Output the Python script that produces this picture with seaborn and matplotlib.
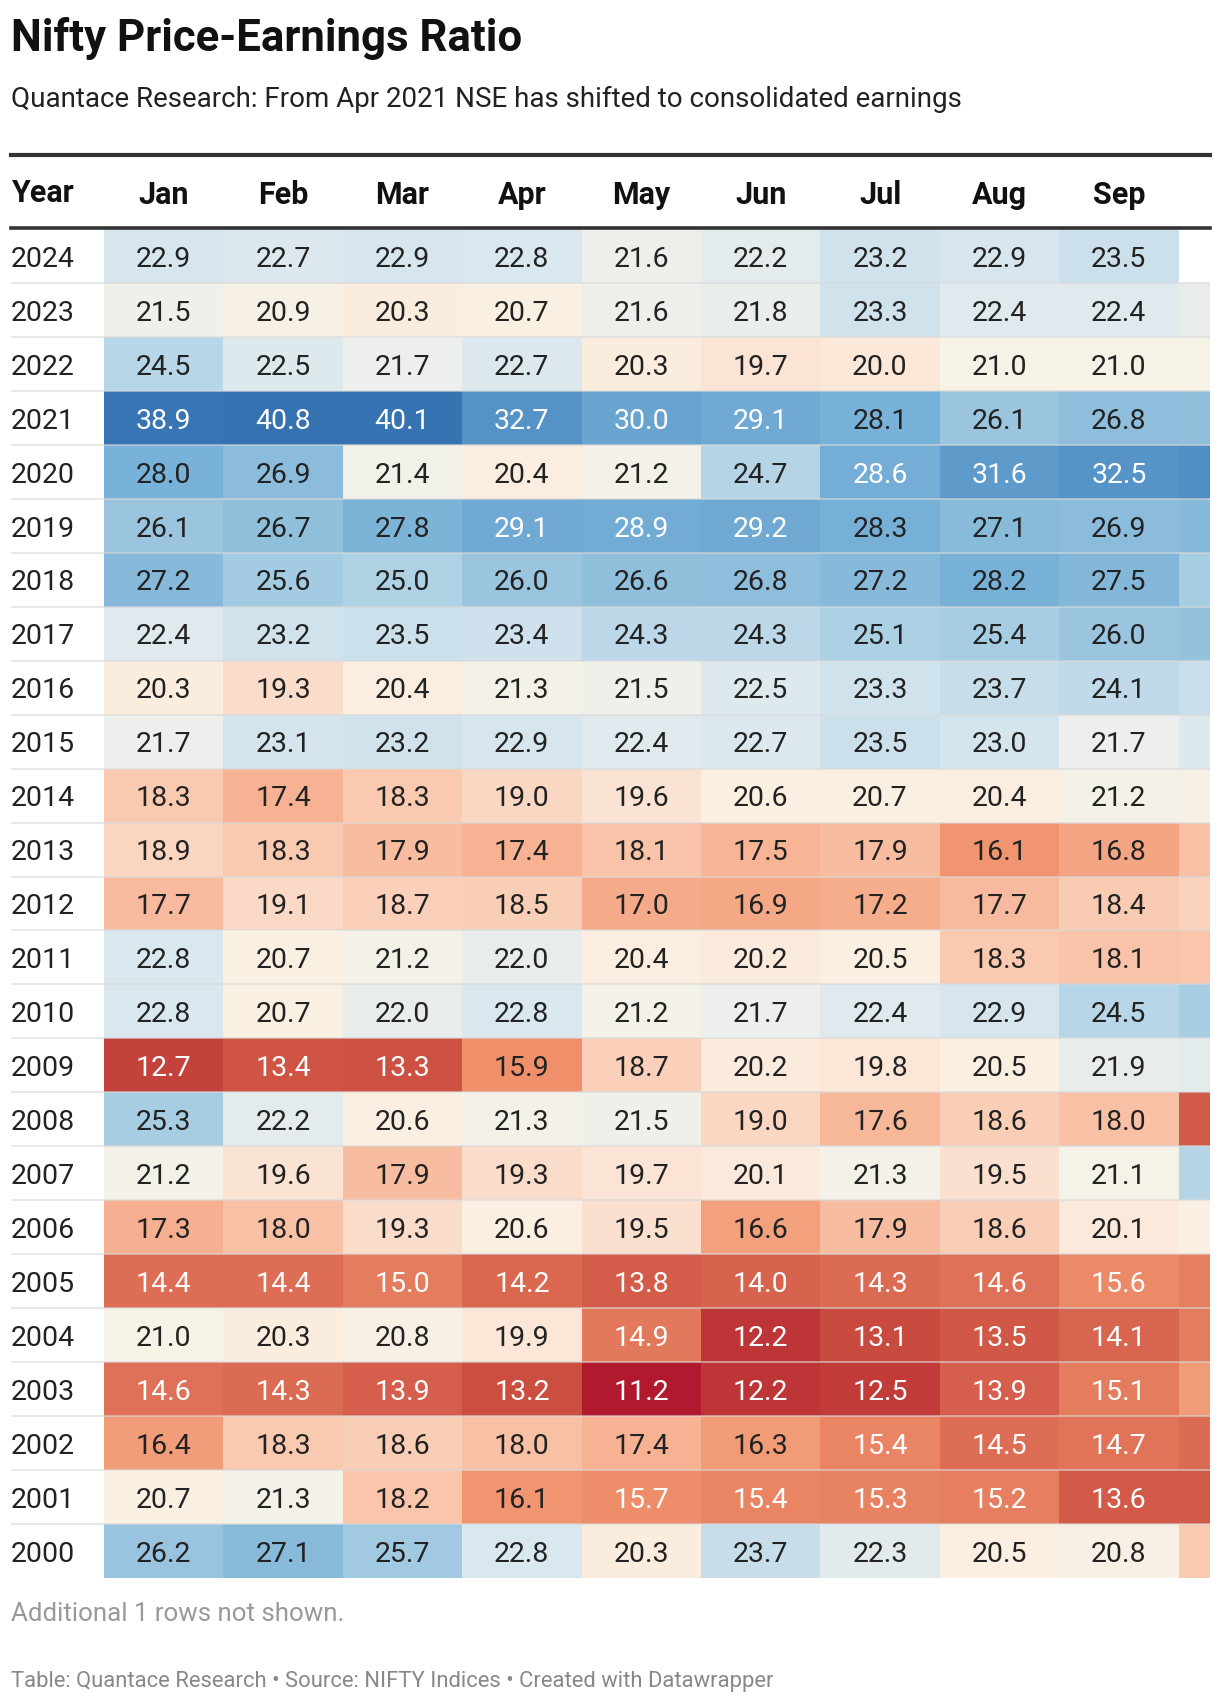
import numpy as np
import pandas as pd
import matplotlib
matplotlib.use("Agg")
import matplotlib.pyplot as plt
import seaborn as sns
from matplotlib.colors import LinearSegmentedColormap

# Data (Oct column is cut off at the right edge)
years = [str(y) for y in range(2024, 1999, -1)]
months = ["Jan", "Feb", "Mar", "Apr", "May", "Jun", "Jul", "Aug", "Sep", "Oct"]

jan = [22.9, 21.5, 24.5, 38.9, 28.0, 26.1, 27.2, 22.4, 20.3, 21.7, 18.3, 18.9, 17.7, 22.8, 22.8, 12.7, 25.3, 21.2, 17.3, 14.4, 21.0, 14.6, 16.4, 20.7, 26.2]
feb = [22.7, 20.9, 22.5, 40.8, 26.9, 26.7, 25.6, 23.2, 19.3, 23.1, 17.4, 18.3, 19.1, 20.7, 20.7, 13.4, 22.2, 19.6, 18.0, 14.4, 20.3, 14.3, 18.3, 21.3, 27.1]
mar = [22.9, 20.3, 21.7, 40.1, 21.4, 27.8, 25.0, 23.5, 20.4, 23.2, 18.3, 17.9, 18.7, 21.2, 22.0, 13.3, 20.6, 17.9, 19.3, 15.0, 20.8, 13.9, 18.6, 18.2, 25.7]
apr = [22.8, 20.7, 22.7, 32.7, 20.4, 29.1, 26.0, 23.4, 21.3, 22.9, 19.0, 17.4, 18.5, 22.0, 22.8, 15.9, 21.3, 19.3, 20.6, 14.2, 19.9, 13.2, 18.0, 16.1, 22.8]
may = [21.6, 21.6, 20.3, 30.0, 21.2, 28.9, 26.6, 24.3, 21.5, 22.4, 19.6, 18.1, 17.0, 20.4, 21.2, 18.7, 21.5, 19.7, 19.5, 13.8, 14.9, 11.2, 17.4, 15.7, 20.3]
jun = [22.2, 21.8, 19.7, 29.1, 24.7, 29.2, 26.8, 24.3, 22.5, 22.7, 20.6, 17.5, 16.9, 20.2, 21.7, 20.2, 19.0, 20.1, 16.6, 14.0, 12.2, 12.2, 16.3, 15.4, 23.7]
jul = [23.2, 23.3, 20.0, 28.1, 28.6, 28.3, 27.2, 25.1, 23.3, 23.5, 20.7, 17.9, 17.2, 20.5, 22.4, 19.8, 17.6, 21.3, 17.9, 14.3, 13.1, 12.5, 15.4, 15.3, 22.3]
aug = [22.9, 22.4, 21.0, 26.1, 31.6, 27.1, 28.2, 25.4, 23.7, 23.0, 20.4, 16.1, 17.7, 18.3, 22.9, 20.5, 18.6, 19.5, 18.6, 14.6, 13.5, 13.9, 14.5, 15.2, 20.5]
sep = [23.5, 22.4, 21.0, 26.8, 32.5, 26.9, 27.5, 26.0, 24.1, 21.7, 21.2, 16.8, 18.4, 18.1, 24.5, 21.9, 18.0, 21.1, 20.1, 15.6, 14.1, 15.1, 14.7, 13.6, 20.8]
# only a sliver of October is visible, values guessed from colour
oct_ = [np.nan, 22.0, 21.0, 26.6, 33.6, 27.2, 25.4, 26.4, 23.6, 22.6, 20.9, 18.0, 18.8, 18.2, 25.3, 22.2, 13.6, 24.7, 20.7, 15.2, 15.0, 16.5, 14.3, 13.6, 18.3]

df = pd.DataFrame({"Jan": jan, "Feb": feb, "Mar": mar, "Apr": apr, "May": may,
                   "Jun": jun, "Jul": jul, "Aug": aug, "Sep": sep, "Oct": oct_},
                  index=years)

# colour scale (red -> cream -> blue)
vmin, vmax = 11.0, 41.0
stops = [(11.0, "#b0172d"), (12.7, "#c4433c"), (13.4, "#d05545"), (15.9, "#f0926c"),
         (17.4, "#f7b394"), (18.3, "#f9c9b0"), (19.6, "#fbe3d4"), (20.4, "#fbeee0"),
         (21.0, "#f6f2e6"), (21.5, "#f0f0ea"), (22.9, "#d7e6ee"), (25.3, "#a8cee3"),
         (26.9, "#8cbcdb"), (28.0, "#79b2d8"), (32.7, "#5592c6"), (38.9, "#3775b5"),
         (41.0, "#3472b2")]
cmap = LinearSegmentedColormap.from_list(
    "dw", [((v - vmin) / (vmax - vmin), c) for v, c in stops])

plt.rcParams["font.family"] = ["Roboto", "DejaVu Sans"]

W, H = 1220, 1704
fig = plt.figure(figsize=(W / 100, H / 100), dpi=100)

left, right, top, bottom = 104, 1210, 229, 1578
ax = fig.add_axes([left / W, 1 - bottom / H, (right - left) / W, (bottom - top) / H])

sns.heatmap(df, ax=ax, cmap=cmap, vmin=vmin, vmax=vmax, cbar=False,
            annot=False, linewidths=0)

visible = 9 + 31.5 / 119.5
ax.set_xlim(0, visible)
ax.set_ylim(len(years), 0)

# cell values (skip the clipped Oct column)
for i, y in enumerate(years):
    for j, m in enumerate(months[:9]):
        v = df.loc[y, m]
        col = "white" if (v < 15.8 or v > 28.5) else "#222222"
        ax.text(j + 0.5, i + 0.56, f"{v:.1f}", ha="center", va="center",
                fontsize=20.5, color=col)

# header labels on top
ax.xaxis.tick_top()
ax.set_xticks(np.arange(9) + 0.5)
ax.set_xticklabels(months[:9], fontsize=22, fontweight="bold", color="#111111")
ax.tick_params(axis="x", length=0, pad=14)

# year labels on the left, left-aligned
ax.set_yticks(np.arange(len(years)) + 0.56)
ax.set_yticklabels(years, fontsize=20.5, color="#222222", rotation=0)
for lab in ax.get_yticklabels():
    lab.set_ha("left")
ax.tick_params(axis="y", length=0, pad=(left - 11) * 0.72)
ax.set_xlabel("")
ax.set_ylabel("")
for s in ax.spines.values():
    s.set_visible(False)

# row separators
x0 = (11 - left) / (right - left)
ax.hlines(np.arange(1, len(years)), x0, 1, transform=ax.get_yaxis_transform(),
          colors="#d9d9d9", linewidth=1.4, alpha=0.6, clip_on=False)

# header rules
for yy, lw in [(155, 3.0), (228, 2.6)]:
    fig.add_artist(plt.Line2D([11 / W, right / W], [1 - yy / H, 1 - yy / H],
                              transform=fig.transFigure, color="#333333", linewidth=lw))

fig.text(11 / W, 1 - 193 / H, "Year", fontsize=22, fontweight="bold",
         color="#111111", va="center", ha="left")

fig.text(11 / W, 1 - 39 / H, "Nifty Price-Earnings Ratio", fontsize=31.5,
         fontweight="bold", color="#111111", va="center", ha="left")
fig.text(11 / W, 1 - 99 / H,
         "Quantace Research: From Apr 2021 NSE has shifted to consolidated earnings",
         fontsize=20, color="#222222", va="center", ha="left")
fig.text(11 / W, 1 - 1614 / H, "Additional 1 rows not shown.", fontsize=18.6,
         color="#999999", va="center", ha="left")
fig.text(11 / W, 1 - 1681 / H,
         "Table: Quantace Research \u2022 Source: NIFTY Indices \u2022 Created with Datawrapper",
         fontsize=15.8, color="#888888", va="center", ha="left")

fig.savefig("out.png", dpi=100, facecolor="white")
